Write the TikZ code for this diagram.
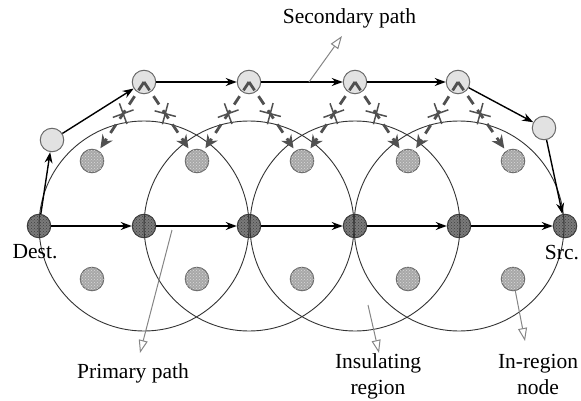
\documentclass[tikz,border=0pt]{standalone}
\usepackage{fontspec}
\setmainfont{Liberation Serif}
\usetikzlibrary{arrows.meta,calc,patterns}
\definecolor{primfill}{HTML}{7A7A7A}
\definecolor{primdraw}{HTML}{3C3C3C}
\definecolor{inregfill}{HTML}{A8A8A8}
\definecolor{inregdraw}{HTML}{6A6A6A}
\definecolor{secfill}{HTML}{E2E2E2}
\definecolor{secdraw}{HTML}{6A6A6A}
\definecolor{dashgray}{HTML}{505050}
\definecolor{leadgray}{HTML}{858585}
\tikzset{
  dot/.style={circle, inner sep=0pt, minimum size=23.5pt, line width=1pt},
  prim/.style={dot, fill=primfill, draw=primdraw,
    postaction={pattern=crosshatch dots, pattern color=black!75}},
  inreg/.style={dot, fill=inregfill, draw=inregdraw,
    postaction={pattern=crosshatch dots, pattern color=white!85!black}},
  sec/.style={dot, fill=secfill, draw=secdraw},
  hop/.style={line width=1.4pt, black, -{Stealth[length=11pt,width=8pt]}},
  probe/.style={draw=dashgray, line width=2.8pt, dash pattern=on 10pt off 7pt,
    -{Stealth[length=13pt,width=12pt]}, shorten >=3pt},
  crossmark/.style={draw=dashgray, line width=1.5pt},
  region/.style={draw=black!80, line width=0.9pt},
  leader/.style={draw=leadgray, line width=1pt, -{Triangle[open,length=13pt,width=9pt]}},
  lbl/.style={font=\fontsize{21.5pt}{26pt}\selectfont, inner sep=0pt, align=center}
}
\begin{document}
\begin{tikzpicture}[x=1pt,y=-1pt]
\useasboundingbox (0,0) rectangle (581,401);

% primary path nodes
\node[prim] (d)  at (39,226)  {};
\node[prim] (p2) at (144,226) {};
\node[prim] (p3) at (249,226) {};
\node[prim] (p4) at (355,226) {};
\node[prim] (p5) at (459,226) {};
\node[prim] (sr) at (565,226) {};

% in-region nodes
\foreach \i/\x in {1/92,2/197,3/302,4/408,5/513}{
  \node[inreg] (u\i) at (\x,161) {};
  \node[inreg] (l\i) at (\x,279) {};
}

% secondary path nodes
\node[sec] (s1) at (52,140) {};
\node[sec] (s2) at (144,82) {};
\node[sec] (s3) at (249,82) {};
\node[sec] (s4) at (355,82) {};
\node[sec] (s5) at (458,82) {};
\node[sec] (s6) at (544,128) {};

% insulating regions
\foreach \c in {p2,p3,p4,p5}{
  \draw[region] (\c) circle[radius=105];
}

% primary path
\draw[hop] (d) -- (p2);
\draw[hop] (p2) -- (p3);
\draw[hop] (p3) -- (p4);
\draw[hop] (p4) -- (p5);
\draw[hop] (p5) -- (sr);

% secondary path
\draw[hop] (d) -- (s1);
\draw[hop] (s1) -- (s2);
\draw[hop] (s2) -- (s3);
\draw[hop] (s3) -- (s4);
\draw[hop] (s4) -- (s5);
\draw[hop] (s5) -- (s6);
\draw[hop] (s6) -- (sr);

% blocked probes towards in-region nodes
\foreach \t/\b/\r in {s2/u1/-20, s2/u2/15, s3/u2/-20, s3/u3/15,
                      s4/u3/-20, s4/u4/15, s5/u4/-20, s5/u5/15}{
  \draw[probe] (\t.center) -- (\b) coordinate[pos=0.46] (m);
  \draw[crossmark] (m) +(\r:11) -- +(\r+180:11)
                   (m) +(\r+90:11) -- +(\r+270:11);
}

% labels
\node[lbl] (tsec) at (349.5,18) {Secondary path};
\node[lbl] (tpri) at (133,373) {Primary path};
\node[lbl] (tins) at (378,376) {Insulating\\region};
\node[lbl] (tinr) at (538,374) {In-region\\node};
\node[lbl] (tdst) at (35,252) {Dest.};
\node[lbl] (tsrc) at (562,253) {Src.};

% leader lines
\coordinate (asec) at (309,82);
\coordinate (esec) at (342,36);
\coordinate (apri) at (172,230);
\coordinate (epri) at (140,353);
\coordinate (ains) at (368,305);
\coordinate (eins) at (379,353);
\coordinate (einr) at (525,341);
\draw[leader] (asec) -- (esec);
\draw[leader] (apri) -- (epri);
\draw[leader] (ains) -- (eins);
\draw[leader] (l5) -- (einr);
\end{tikzpicture}
\end{document}
